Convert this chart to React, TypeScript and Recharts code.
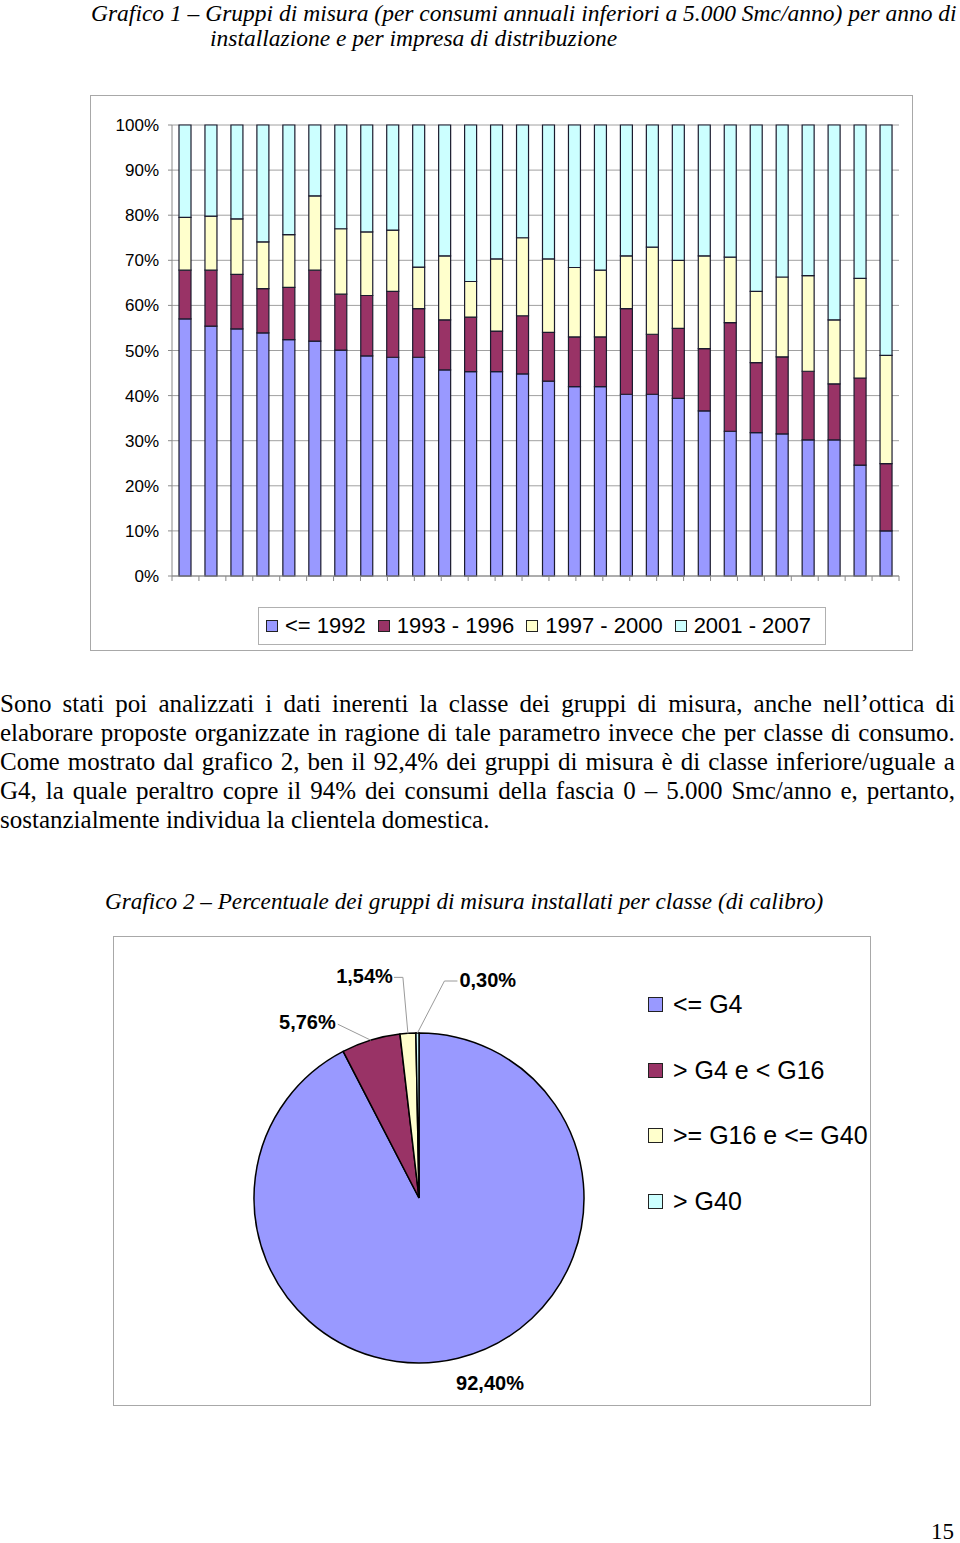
import React from 'react';
import { BarChart, Bar, XAxis, YAxis, CartesianGrid, Legend, ReferenceLine, PieChart, Pie, Cell } from 'recharts';

// ---------- Grafico 1 data ----------
const companies = ['1','2','3','4','5','6','7','8','9','10','11','12','13','14','15','16','17','18','19','20','21','22','23','24','25','26','27','28'];
const upTo1992 = [57.0, 55.4, 54.8, 53.9, 52.4, 52.1, 50.1, 48.8, 48.5, 48.5, 45.7, 45.3, 45.3, 44.8, 43.2, 42.0, 42.0, 40.3, 40.3, 39.4, 36.6, 32.1, 31.8, 31.5, 30.2, 30.2, 24.6, 10.0];
const from1993to1996 = [10.8, 12.4, 12.1, 9.8, 11.6, 15.7, 12.4, 13.4, 14.6, 10.8, 11.1, 12.1, 9.0, 12.9, 10.8, 11.0, 11.0, 19.0, 13.3, 15.5, 13.8, 24.1, 15.5, 17.1, 15.2, 12.4, 19.3, 14.9];
const from1997to2000 = [11.7, 12.0, 12.3, 10.4, 11.7, 16.5, 14.5, 14.1, 13.6, 9.2, 14.2, 7.9, 16.0, 17.3, 16.3, 15.4, 14.8, 11.7, 19.3, 15.1, 20.6, 14.5, 15.8, 17.7, 21.2, 14.2, 22.1, 24.0];
const from2001to2007 = [20.5, 20.2, 20.8, 25.9, 24.3, 15.7, 23.0, 23.7, 23.3, 31.5, 29.0, 34.7, 29.7, 25.0, 29.7, 31.6, 32.2, 29.0, 27.1, 30.0, 29.0, 29.3, 36.9, 33.7, 33.4, 43.2, 34.0, 51.1];
const barSeriesNames = ['<= 1992', '1993 - 1996', '1997 - 2000', '2001 - 2007'];
const yTicks = [0, 10, 20, 30, 40, 50, 60, 70, 80, 90, 100];
const categoryEdges = [0,1,2,3,4,5,6,7,8,9,10,11,12,13,14,15,16,17,18,19,20,21,22,23,24,25,26,27,28];

// ---------- Grafico 2 data ----------
const pieClasses = ['<= G4', '> G4 e < G16', '>= G16 e <= G40', '> G40'];
const pieValues = [92.40, 5.76, 1.54, 0.30];

const COLORS = ['#9999FF', '#993366', '#FFFFCC', '#CCFFFF'];

const barData = companies.map((c, i) => ({
  name: c,
  s0: upTo1992[i],
  s1: from1993to1996[i],
  s2: from1997to2000[i],
  s3: from2001to2007[i],
}));

const pieData = pieClasses.map((n, i) => ({ name: n, value: pieValues[i] }));

const fmtPct = (v: number) => v.toFixed(2).replace('.', ',') + '%';

const SANS = '"Liberation Sans", Arial, sans-serif';
const SERIF = '"Liberation Serif", "Times New Roman", serif';

const orderBy = (payload: any[], names: string[]) =>
  [...payload].sort((a, b) => names.indexOf(a.value) - names.indexOf(b.value));

const BarLegend = (props: any) => {
  const payload = orderBy(props.payload || [], barSeriesNames);
  return (
    <div style={{ width: 568, height: 38, boxSizing: 'border-box', border: '1px solid #b0b0b0', display: 'flex', alignItems: 'center', paddingLeft: 7, fontFamily: SANS, fontSize: 22, color: '#000', background: '#fff' }}>
      {payload.map((e: any, i: number) => (
        <div key={i} style={{ display: 'flex', alignItems: 'center', marginRight: 12 }}>
          <div style={{ width: 12, height: 12, boxSizing: 'border-box', border: '1px solid #222', background: e.color, marginRight: 7 }} />
          <span style={{ whiteSpace: 'nowrap' }}>{e.value}</span>
        </div>
      ))}
    </div>
  );
};

const PieLegend = (props: any) => {
  const payload = orderBy(props.payload || [], pieClasses);
  return (
    <div style={{ fontFamily: SANS, fontSize: 25, color: '#000' }}>
      {payload.map((e: any, i: number) => (
        <div key={i} style={{ display: 'flex', alignItems: 'center', height: 65.5 }}>
          <div style={{ width: 15, height: 15, boxSizing: 'border-box', border: '1.5px solid #222', background: e.color, marginRight: 10 }} />
          <span style={{ whiteSpace: 'nowrap' }}>{e.value}</span>
        </div>
      ))}
    </div>
  );
};

// label placement relative to the sector's outer edge point (layout only)
const pieLabelLayout = [
  { anchor: 'middle', text: [32, 25], path: [] as number[][] },
  { anchor: 'end', text: [-35, -18], path: [[-33, -16]] },
  { anchor: 'end', text: [-15, -57], path: [[-5, -56], [-14, -56]] },
  { anchor: 'start', text: [42, -53], path: [[27, -52], [40, -52]] },
];

const RAD = Math.PI / 180;
const renderPieLabel = (p: any) => {
  const { cx, cy, midAngle, outerRadius, index, value } = p;
  const ex = cx + outerRadius * Math.cos(-midAngle * RAD);
  const ey = cy + outerRadius * Math.sin(-midAngle * RAD);
  const L = pieLabelLayout[index];
  const pts = [[ex, ey], ...L.path.map((q) => [ex + q[0], ey + q[1]])];
  return (
    <g key={'lbl' + index}>
      {L.path.length > 0 && (
        <polyline points={pts.map((q) => q.join(',')).join(' ')} fill="none" stroke="#9a9a9a" strokeWidth={1} />
      )}
      <text x={ex + L.text[0]} y={ey + L.text[1]} textAnchor={L.anchor as any} dominantBaseline="central" fontFamily={SANS} fontWeight="bold" fontSize={20} fill="#000">
        {fmtPct(value)}
      </text>
    </g>
  );
};

const paragraphLines = [
  'Sono stati poi analizzati i dati inerenti la classe dei gruppi di misura, anche nell’ottica di',
  'elaborare proposte organizzate in ragione di tale parametro invece che per classe di consumo.',
  'Come mostrato dal grafico 2, ben il 92,4% dei gruppi di misura è di classe inferiore/uguale a',
  'G4, la quale peraltro copre il 94% dei consumi della fascia 0 – 5.000 Smc/anno e, pertanto,',
  'sostanzialmente individua la clientela domestica.',
];

export default function App() {
  return (
    <div style={{ position: 'absolute', left: 0, top: 0, width: 960, height: 1543, background: '#fff', fontFamily: SERIF, color: '#000', overflow: 'hidden' }}>
      {/* Title 1 */}
      <div style={{ position: 'absolute', left: 91, top: 2, fontStyle: 'italic', fontSize: 23.5, lineHeight: '22px', whiteSpace: 'nowrap' }}>
        Grafico 1 – Gruppi di misura (per consumi annuali inferiori a 5.000 Smc/anno) per anno di
      </div>
      <div style={{ position: 'absolute', left: 210, top: 27, fontStyle: 'italic', fontSize: 23.5, lineHeight: '22px', whiteSpace: 'nowrap' }}>
        installazione e per impresa di distribuzione
      </div>

      {/* Chart 1 */}
      <div style={{ position: 'absolute', left: 90, top: 95, width: 823, height: 556, boxSizing: 'border-box', border: '1px solid #a8a8a8' }}>
        <BarChart width={821} height={554} data={barData} margin={{ top: 29, right: 13, left: 0, bottom: 0 }}>
          <CartesianGrid vertical={false} stroke="#a0a0a0" />
          <XAxis dataKey="name" hide height={0} />
          <XAxis xAxisId="edges" type="number" domain={[0, 28]} allowDataOverflow ticks={categoryEdges} tickFormatter={() => ''} height={74} tickSize={5} tickLine={{ stroke: '#8a8a8a' }} axisLine={{ stroke: '#8a8a8a' }} />
          <YAxis domain={[0, 100]} ticks={yTicks} width={81} tickSize={4} tickLine={{ stroke: '#8a8a8a' }} axisLine={{ stroke: '#8a8a8a' }} tickFormatter={(v: number) => v + '%'} tick={{ fontFamily: SANS, fontSize: 17, fill: '#000' }} tickMargin={9} />
          <ReferenceLine xAxisId="edges" x={28} stroke="#a0a0a0" />
          {['s0', 's1', 's2', 's3'].map((k, i) => (
            <Bar key={k} dataKey={k} name={barSeriesNames[i]} stackId="a" fill={COLORS[i]} stroke="#1b1b2e" strokeWidth={1.2} barSize={12} isAnimationActive={false} />
          ))}
          <Legend layout="horizontal" align="center" verticalAlign="middle" wrapperStyle={{ left: 167, top: 511, width: 568 }} content={<BarLegend />} />
        </BarChart>
      </div>

      {/* Paragraph */}
      {paragraphLines.map((line, i) => {
        const last = i === paragraphLines.length - 1;
        const words = line.split(' ');
        return (
          <div key={i} style={{ position: 'absolute', left: 0, top: 689 + i * 29, width: 955, height: 29, fontSize: 25, lineHeight: '29px', display: 'flex', justifyContent: last ? 'flex-start' : 'space-between', whiteSpace: 'pre' }}>
            {last ? <span>{line}</span> : words.map((w, j) => <span key={j}>{w}</span>)}
          </div>
        );
      })}

      {/* Title 2 */}
      <div style={{ position: 'absolute', left: 105, top: 888, fontStyle: 'italic', fontSize: 23.2, lineHeight: '26px', whiteSpace: 'nowrap' }}>
        Grafico 2 – Percentuale dei gruppi di misura installati per classe (di calibro)
      </div>

      {/* Chart 2 */}
      <div style={{ position: 'absolute', left: 113, top: 936, width: 758, height: 470, boxSizing: 'border-box', border: '1px solid #a8a8a8' }}>
        <PieChart width={756} height={468} margin={{ top: 0, right: 0, bottom: 0, left: 0 }}>
          <Pie data={pieData} dataKey="value" nameKey="name" cx={305} cy={261} outerRadius={165} startAngle={90} endAngle={-270} stroke="#000" strokeWidth={1.5} label={renderPieLabel} labelLine={false} isAnimationActive={false}>
            {pieData.map((d, i) => <Cell key={i} fill={COLORS[i]} />)}
          </Pie>
          <Legend layout="vertical" align="center" verticalAlign="middle" wrapperStyle={{ left: 534, top: 35 }} content={<PieLegend />} />
        </PieChart>
      </div>

      {/* page number */}
      <div style={{ position: 'absolute', left: 931, top: 1518, fontSize: 23, lineHeight: '28px' }}>15</div>
    </div>
  );
}
